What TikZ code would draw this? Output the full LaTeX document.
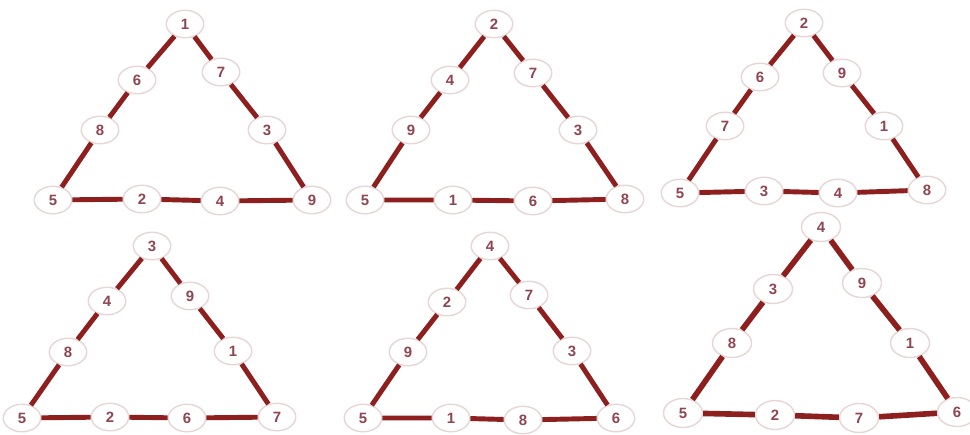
\documentclass[tikz,border=0pt]{standalone}
\usepackage{fontspec}
\setsansfont{Liberation Sans}
\usetikzlibrary{shapes.geometric}
\definecolor{barred}{HTML}{8E1F1F}
\definecolor{ringgray}{HTML}{E6D6D6}
\definecolor{digitred}{HTML}{8F4552}

\begin{document}
\begin{tikzpicture}[x=0.02cm, y=-0.02cm,
  num/.style={ellipse, draw=ringgray, line width=0.8pt, fill=white, minimum width=0.75cm, minimum height=0.55cm, inner sep=0pt, text=digitred, font=\fontsize{8.5}{10}\selectfont\sffamily\bfseries},
  bignum/.style={num, minimum width=0.78cm, minimum height=0.58cm},
  bar/.style={draw=barred, line width=2.8pt}
]
\clip (0,0) rectangle (970,434);
\fill[white] (0,0) rectangle (970,434);

% puzzle 1
\node (ptop) [num] at (185,24) {1};
\node (pr1) [num] at (221,72) {7};
\node (pr2) [num] at (267,130) {3};
\node (pbr) [num] at (312,200) {9};
\node (pb2) [num] at (220,201) {4};
\node (pb1) [num] at (142,199) {2};
\node (pbl) [num] at (53,200) {5};
\node (pl2) [num] at (100,130) {8};
\node (pl1) [num] at (137,80) {6};
\draw [bar] (ptop) -- (pr1) -- (pr2) -- (pbr) -- (pb2) -- (pb1) -- (pbl) -- (pl2) -- (pl1) -- (ptop);

% puzzle 2
\node (qtop) [num] at (494,24) {2};
\node (qr1) [num] at (533,73) {7};
\node (qr2) [num] at (578,130) {3};
\node (qbr) [num] at (625,199) {8};
\node (qb2) [num] at (533,201) {6};
\node (qb1) [num] at (453,200) {1};
\node (qbl) [num] at (365,200) {5};
\node (ql2) [num] at (411,130) {9};
\node (ql1) [num] at (450,80) {4};
\draw [bar] (qtop) -- (qr1) -- (qr2) -- (qbr) -- (qb2) -- (qb1) -- (qbl) -- (ql2) -- (ql1) -- (qtop);

% puzzle 3
\node (rtop) [num] at (804,23) {2};
\node (rr1) [num] at (842,73) {9};
\node (rr2) [num] at (884,126) {1};
\node (rbr) [num] at (927,190) {8};
\node (rb2) [num] at (838,193) {4};
\node (rb1) [num] at (764,191) {3};
\node (rbl) [num] at (680,193) {5};
\node (rl2) [num] at (725,126) {7};
\node (rl1) [num] at (760,77) {6};
\draw [bar] (rtop) -- (rr1) -- (rr2) -- (rbr) -- (rb2) -- (rb1) -- (rbl) -- (rl2) -- (rl1) -- (rtop);

% puzzle 4
\node (stop) [num] at (152,246) {3};
\node (sr1) [num] at (190,296) {9};
\node (sr2) [num] at (233,351) {1};
\node (sbr) [num] at (277,417) {7};
\node (sb2) [num] at (187,418) {6};
\node (sb1) [num] at (110,417) {2};
\node (sbl) [num] at (22,418) {5};
\node (sl2) [num] at (68,352) {8};
\node (sl1) [num] at (107,301) {4};
\draw [bar] (stop) -- (sr1) -- (sr2) -- (sbr) -- (sb2) -- (sb1) -- (sbl) -- (sl2) -- (sl1) -- (stop);

% puzzle 5
\node (utop) [num] at (490,246) {4};
\node (ur1) [num] at (529,295) {7};
\node (ur2) [num] at (572,351) {3};
\node (ubr) [num] at (616,418) {6};
\node (ub2) [num] at (523,420) {8};
\node (ub1) [num] at (451,418) {1};
\node (ubl) [num] at (363,418) {5};
\node (ul2) [num] at (408,352) {9};
\node (ul1) [num] at (447,302) {2};
\draw [bar] (utop) -- (ur1) -- (ur2) -- (ubr) -- (ub2) -- (ub1) -- (ubl) -- (ul2) -- (ul1) -- (utop);

% puzzle 6
\node (vtop) [bignum] at (821,227) {4};
\node (vr1) [bignum] at (862,283) {9};
\node (vr2) [bignum] at (910,343) {1};
\node (vbr) [bignum] at (957,412) {6};
\node (vb2) [bignum] at (859,418) {7};
\node (vb1) [bignum] at (775,415) {2};
\node (vbl) [bignum] at (683,413) {5};
\node (vl2) [bignum] at (732,343) {8};
\node (vl1) [bignum] at (773,289) {3};
\draw [bar, line width=3.2pt] (vtop) -- (vr1) -- (vr2) -- (vbr) -- (vb2) -- (vb1) -- (vbl) -- (vl2) -- (vl1) -- (vtop);

\end{tikzpicture}
\end{document}
